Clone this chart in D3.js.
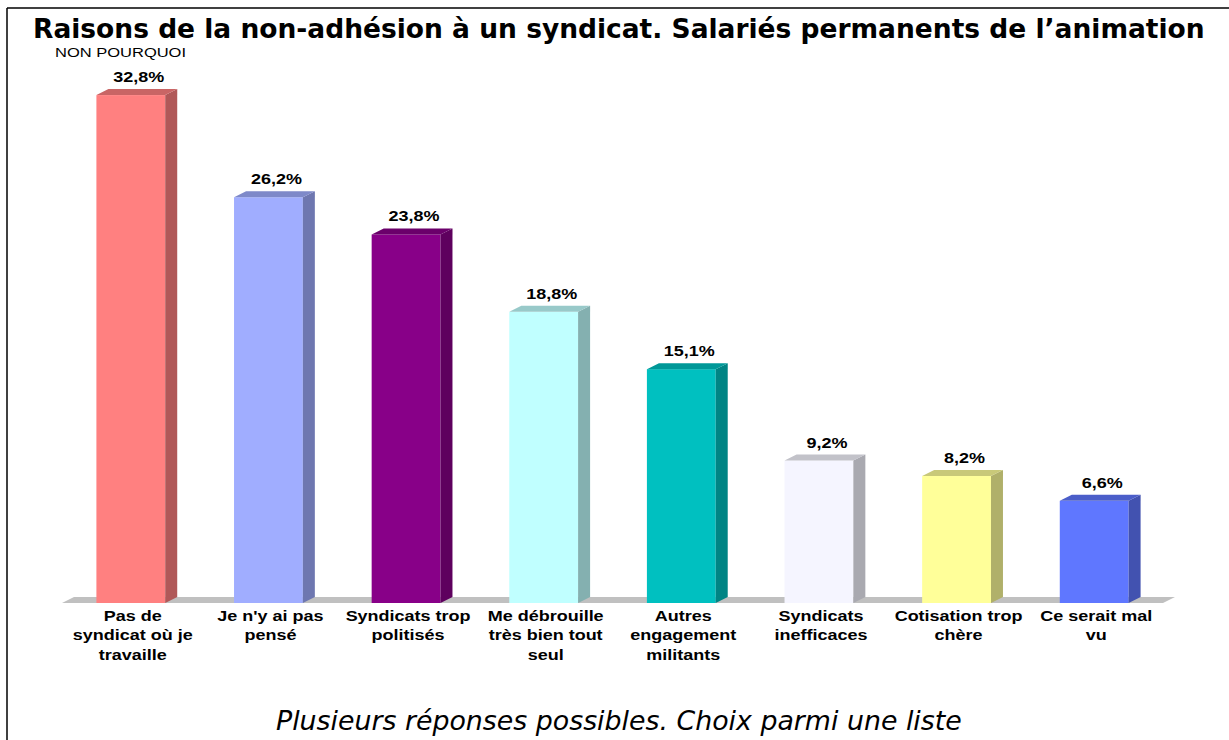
<!DOCTYPE html>
<html><head><meta charset="utf-8">
<script src="https://cdn.jsdelivr.net/npm/d3@7"></script>
<style>body{margin:0;background:#fff}svg{display:block}</style>
</head><body>
<script>
const categories = [
  ["Pas de","syndicat où je","travaille"],
  ["Je n'y ai pas","pensé"],
  ["Syndicats trop","politisés"],
  ["Me débrouille","très bien tout","seul"],
  ["Autres","engagement","militants"],
  ["Syndicats","inefficaces"],
  ["Cotisation trop","chère"],
  ["Ce serait mal","vu"]
];
const values = [32.8, 26.2, 23.8, 18.8, 15.1, 9.2, 8.2, 6.6];
const valueLabels = ["32,8%","26,2%","23,8%","18,8%","15,1%","9,2%","8,2%","6,6%"];
const frontColors = ["#FF8080","#A0ADFF","#880088","#C0FFFF","#00C0C0","#F5F5FF","#FFFF99","#5F77FF"];
const title = "Raisons de la non-adhésion à un syndicat. Salariés permanents de l\u2019animation";
const subtitle = "NON POURQUOI";
const footer = "Plusieurs réponses possibles. Choix parmi une liste";

const W = 1229, H = 740;
const SX = 1.2; // horizontal stretch of the reference's Arial texts
const svg = d3.select("body").append("svg").attr("width", W).attr("height", H);
svg.append("rect").attr("width", W).attr("height", H).attr("fill", "#fff");

const ids = d3.range(values.length);
const x = d3.scaleBand().domain(ids).range([62, 1163]).paddingInner(0.5).paddingOuter(0.25);
const y = d3.scaleLinear().domain([0, 35]).range([603, 61]);
const dx = 12, dy = -6;

// frame
svg.append("line").attr("x1", 7).attr("y1", 8).attr("x2", W).attr("y2", 8).attr("stroke", "#000").attr("stroke-width", 1.5);
svg.append("line").attr("x1", 7).attr("y1", 8).attr("x2", 7).attr("y2", H).attr("stroke", "#000").attr("stroke-width", 1.5);

// floor
const x0 = x.range()[0], x1 = x.range()[1], y0 = y(0);
svg.append("path")
  .attr("d", `M${x0},${y0}L${x1},${y0}L${x1+dx},${y0+dy}L${x0+dx},${y0+dy}Z`)
  .attr("fill", "#C0C0C0");

// bars
const bw = x.bandwidth();
const g = svg.append("g");
ids.forEach(i => {
  const bx = x(i), by = y(values[i]);
  const c = d3.color(frontColors[i]);
  const side = d3.rgb(c.r*0.69, c.g*0.69, c.b*0.69);
  const top = d3.rgb(c.r*0.79, c.g*0.79, c.b*0.79);
  g.append("rect").attr("x", bx).attr("y", by).attr("width", bw).attr("height", y0 - by).attr("fill", frontColors[i]);
  g.append("path").attr("d", `M${bx+bw},${by}L${bx+bw+dx},${by+dy}L${bx+bw+dx},${y0+dy}L${bx+bw},${y0}Z`).attr("fill", side);
  g.append("path").attr("d", `M${bx},${by}L${bx+dx},${by+dy}L${bx+bw+dx},${by+dy}L${bx+bw},${by}Z`).attr("fill", top);
  g.append("text")
    .attr("transform", `translate(${bx + bw/2 + 8},${by + dy - 7}) scale(${SX},1)`)
    .attr("text-anchor", "middle").attr("font-family", "Liberation Sans, Arial, sans-serif")
    .attr("font-weight", "bold").attr("font-size", 15).attr("fill", "#000").text(valueLabels[i]);
  const t = g.append("text").attr("text-anchor", "middle")
    .attr("transform", `translate(${bx + bw/2 + 2},0) scale(${SX},1)`)
    .attr("font-family", "Liberation Sans, Arial, sans-serif").attr("font-weight", "bold")
    .attr("font-size", 15).attr("fill", "#000");
  categories[i].forEach((line, k) => {
    t.append("tspan").attr("x", 0).attr("y", 621 + k*19.5).text(line);
  });
});

// title
const tt = svg.append("text").attr("x", 33).attr("y", 38)
  .attr("font-family", "DejaVu Sans, Verdana, sans-serif").attr("font-weight", "bold")
  .attr("font-size", 24).attr("fill", "#000").text(title);
const tl = tt.node().getComputedTextLength();
tt.attr("font-size", 24 * 1172 / tl);

svg.append("text").attr("transform", "translate(55,57) scale(1.27,1)")
  .attr("font-family", "Liberation Sans, Arial, sans-serif").attr("font-size", 13)
  .attr("fill", "#000").text(subtitle);

const ft = svg.append("text").attr("x", 276).attr("y", 730)
  .attr("font-family", "DejaVu Sans, Verdana, sans-serif").attr("font-style", "italic")
  .attr("font-size", 23).attr("fill", "#000").text(footer);
const fl = ft.node().getComputedTextLength();
ft.attr("font-size", 23 * 686 / fl);
</script>
</body></html>
